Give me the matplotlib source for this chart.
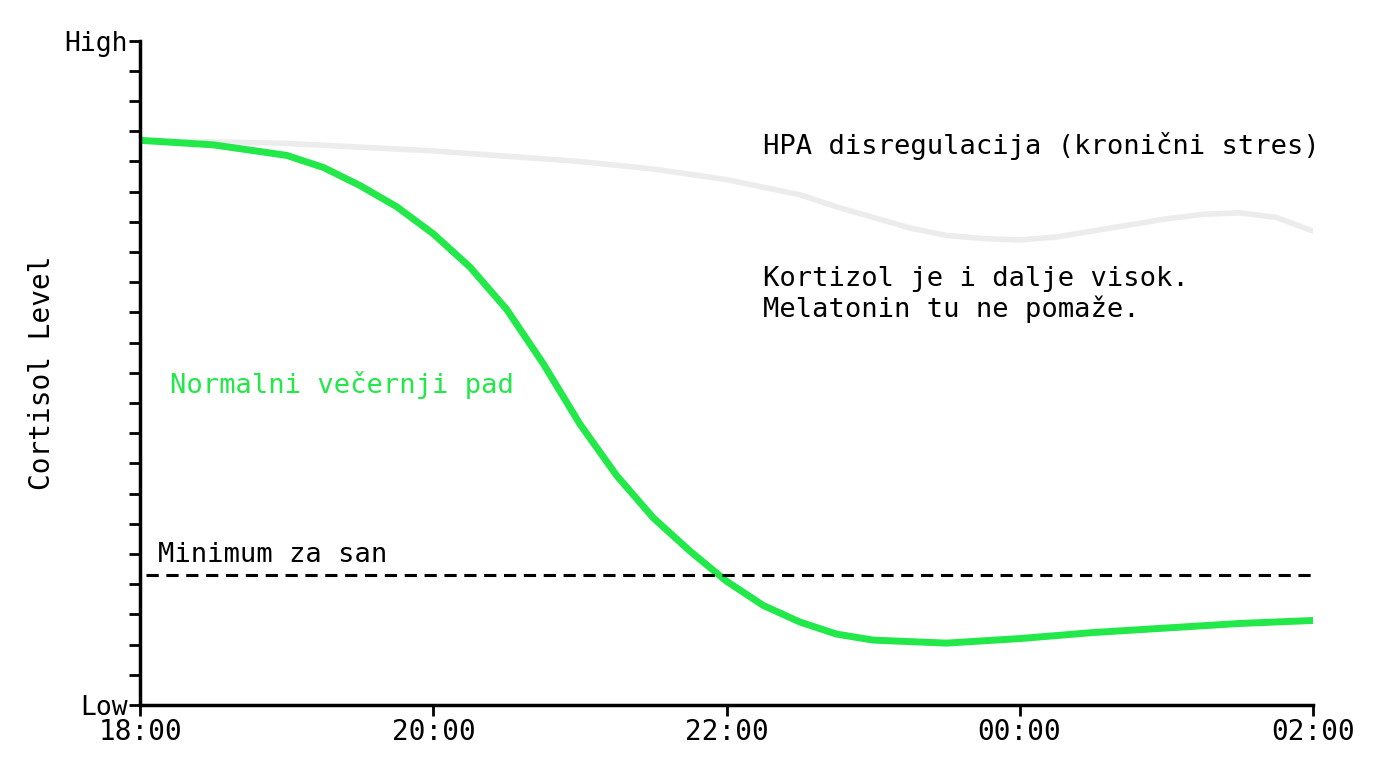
import matplotlib
matplotlib.use("Agg")
import matplotlib.pyplot as plt

# hours after 18:00
hours = [0, 0.5, 1, 1.25, 1.5, 1.75, 2, 2.25, 2.5, 2.75, 3, 3.25, 3.5, 3.75, 4, 4.25, 4.5, 4.75,
         5, 5.5, 6, 6.5, 7, 7.5, 8]
normal = [18.7, 18.55, 18.2, 17.8, 17.2, 16.5, 15.6, 14.5, 13.1, 11.3, 9.3, 7.6, 6.2, 5.1, 4.1, 3.3,
          2.75, 2.35, 2.15, 2.05, 2.2, 2.4, 2.55, 2.7, 2.8]
hpa_hours = [0, 1, 2, 3, 3.5, 4, 4.5, 4.75, 5, 5.25, 5.5, 5.75, 6, 6.25, 6.5, 6.75, 7, 7.25, 7.5, 7.75, 8]
hpa = [18.7, 18.6, 18.35, 18.0, 17.75, 17.4, 16.9, 16.5, 16.15, 15.8, 15.55, 15.45, 15.4, 15.5, 15.7,
       15.9, 16.1, 16.25, 16.3, 16.15, 15.7]
sleep_min = 4.3
xticks = [0, 2, 4, 6, 8]
xlabels = ["18:00", "20:00", "22:00", "00:00", "02:00"]

plt.rcParams["font.family"] = ["DejaVu Sans Mono"]
fig = plt.figure(figsize=(13.76, 7.68), dpi=100)
ax = fig.add_axes([0.102, 0.082, 0.852, 0.865])

ax.plot(hpa_hours, hpa, color="#ececec", lw=4, solid_capstyle="round", solid_joinstyle="round")
ax.plot(hours, normal, color="#22e84a", lw=5, solid_capstyle="round", solid_joinstyle="round")
ax.axhline(sleep_min, xmin=0.005, color="black", lw=2.2, ls=(0, (4, 2.5)))

fs = 19.5
ax.text(0.12, sleep_min + 0.25, "Minimum za san", fontsize=fs, va="bottom")
ax.text(0.2, 10.6, "Normalni večernji pad", fontsize=fs, color="#22e84a", va="center")
ax.text(4.25, 18.5, "HPA disregulacija (kronični stres)", fontsize=fs, va="center")
ax.text(4.25, 13.6, "Kortizol je i dalje visok.\nMelatonin tu ne pomaže.", fontsize=fs,
        va="center", linespacing=1.15)

ax.set_xlim(0, 8)
ax.set_ylim(0, 22)
ax.set_xticks(xticks)
ax.set_xticklabels(xlabels, fontsize=20)
ax.set_yticks(range(23))
ax.set_yticklabels(["Low"] + [""] * 21 + ["High"], fontsize=19)
ax.set_ylabel("Cortisol Level", fontsize=20, labelpad=6)
ax.tick_params(width=2, length=8, pad=1)
for s in ["top", "right"]:
    ax.spines[s].set_visible(False)
for s in ["left", "bottom"]:
    ax.spines[s].set_linewidth(2.5)

fig.savefig("out.png")
